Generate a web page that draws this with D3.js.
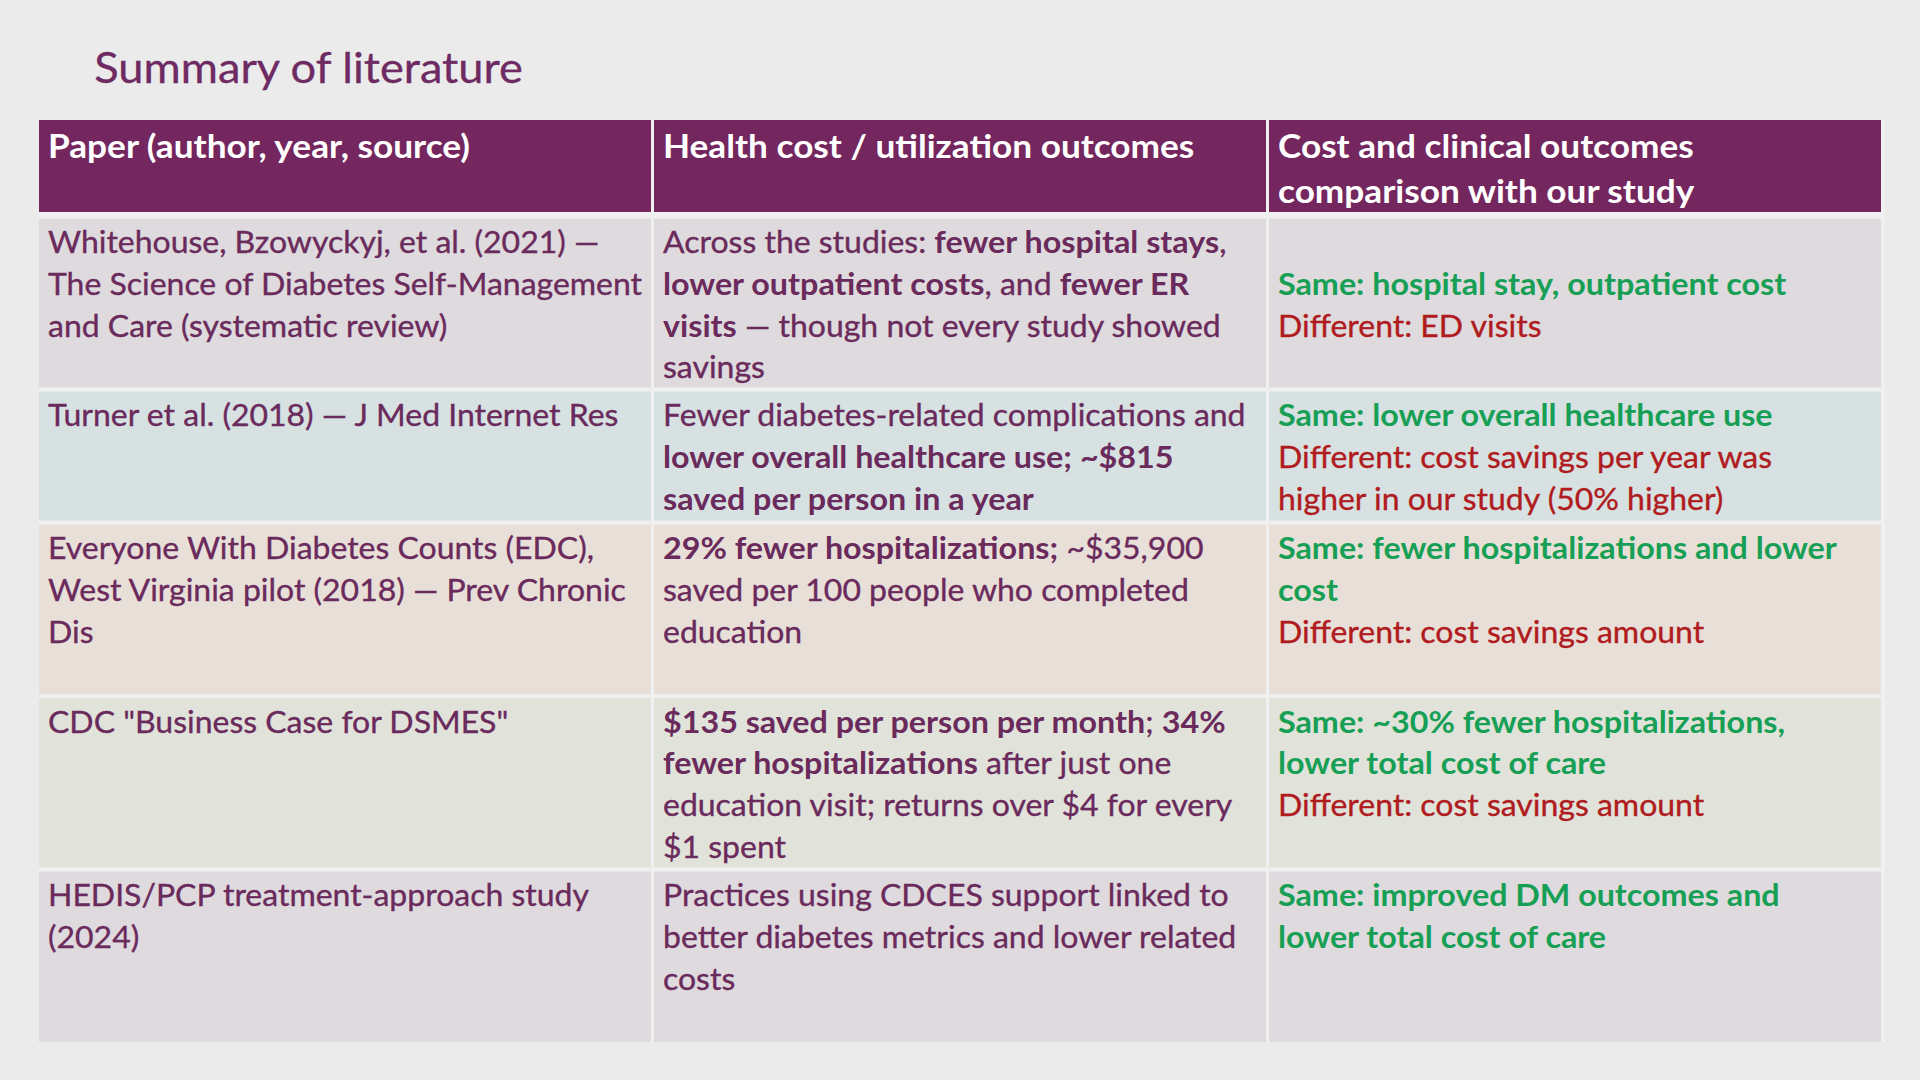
<!DOCTYPE html>
<html><head><meta charset="utf-8">
<script src="https://cdn.jsdelivr.net/npm/d3@7"></script>
<style>html,body{margin:0;padding:0;background:#ebebeb;overflow:hidden} svg{display:block}</style>
</head><body>
<svg id="c" width="1920" height="1080"></svg>
<script>
// ---------- DATA ----------
const titleText = "Summary of literature";
const headerLines = [
  ["Paper (author, year, source)"],
  ["Health cost / utilization outcomes"],
  ["Cost and clinical outcomes", "comparison with our study"]
];
// segment style codes: n = normal, b = bold, g = "same" (green bold), r = "different" (red)
const papers = [
  [[["n","Whitehouse, Bzowyckyj, et al. (2021) —"]],[["n","The Science of Diabetes Self-Management"]],[["n","and Care (systematic review)"]]],
  [[["n","Turner et al. (2018) — J Med Internet Res"]]],
  [[["n","Everyone With Diabetes Counts (EDC),"]],[["n","West Virginia pilot (2018) — Prev Chronic"]],[["n","Dis"]]],
  [[["n","CDC \"Business Case for DSMES\""]]],
  [[["n","HEDIS/PCP treatment-approach study"]],[["n","(2024)"]]]
];
const outcomes = [
  [[["n","Across the studies: "],["b","fewer hospital stays"],["n",","]],
   [["b","lower outpatient costs"],["n",", and "],["b","fewer ER"]],
   [["b","visits"],["n"," — though not every study showed"]],
   [["n","savings"]]],
  [[["n","Fewer diabetes-related complications and"]],
   [["b","lower overall healthcare use; ~$815"]],
   [["b","saved per person in a year"]]],
  [[["b","29% fewer hospitalizations;"],["n"," ~$35,900"]],
   [["n","saved per 100 people who completed"]],
   [["n","education"]]],
  [[["b","$135 saved per person per month"],["n","; "],["b","34%"]],
   [["b","fewer hospitalizations"],["n"," after just one"]],
   [["n","education visit; returns over $4 for every"]],
   [["n","$1 spent"]]],
  [[["n","Practices using CDCES support linked to"]],
   [["n","better diabetes metrics and lower related"]],
   [["n","costs"]]]
];
const comparison = [
  [[],
   [["g","Same: hospital stay, outpatient cost"]],
   [["r","Different: ED visits"]]],
  [[["g","Same: lower overall healthcare use"]],
   [["r","Different: cost savings per year was"]],
   [["r","higher in our study (50% higher)"]]],
  [[["g","Same: fewer hospitalizations and lower"]],
   [["g","cost"]],
   [["r","Different: cost savings amount"]]],
  [[["g","Same: ~30% fewer hospitalizations,"]],
   [["g","lower total cost of care"]],
   [["r","Different: cost savings amount"]]],
  [[["g","Same: improved DM outcomes and"]],
   [["g","lower total cost of care"]]]
];

// ---------- STYLE / LAYOUT ----------
const FONT = "Lato, 'Open Sans', sans-serif";
const C = {
  bg:"#ebebeb", grid:"#f1f0f1", header:"#74265e", headerText:"#ffffff",
  title:"#6e2a62", text:"#6a2a5c", same:"#17a055", diff:"#b01b20",
  rows:["#dedadd","#d7e1e2","#e8e0d8","#e1e3db","#dfdade"]
};
const L = {
  left:39, right:1881, colGapFrac:3/614,
  headerTop:120, headerBottom:212,
  rowTops:[218.5,391.5,524.5,698,871.5], rowBottoms:[387.5,520.5,694.5,867.5,1042],
  padX:9, headBase1:158, headPitch:45,
  bodyOffset:34.8, bodyPitch:41.6,
  titleX:94.3, titleBase:83
};

const svg = d3.select("#c");
svg.append("rect").attr("width",1920).attr("height",1080).attr("fill",C.bg);

function measure(str, size, weight){
  const t = svg.append("text").attr("font-family",FONT).attr("font-size",size)
    .attr("font-weight",weight).text(str);
  const w = t.node().getComputedTextLength(); t.remove(); return w;
}
// fit fonts: match cap height (Calibri-like), compress horizontally to match widths
const CAP = 0.7165;
const titleFs = 30/CAP;
const titleSx = 428.6/measure(titleText,titleFs,400);
const headFs = 23.6/CAP;
const headSx = 422/measure(headerLines[0][0],headFs,700);
const bodyFs = 22.2/CAP;
const bodySx = 594/measure("The Science of Diabetes Self-Management",bodyFs,400);
const bodyBoldFs = bodyFs * 510.6/(measure("lower overall healthcare use; ~$815",bodyFs,700)*bodySx);

const x = d3.scaleBand().domain(d3.range(3)).range([L.left,L.right]).paddingInner(L.colGapFrac);

// title
svg.append("text").attr("font-family",FONT).attr("font-size",titleFs).attr("fill",C.title)
  .attr("stroke",C.title).attr("stroke-width",0.3)
  .attr("transform",`translate(${L.titleX},${L.titleBase}) scale(${titleSx},1)`).text(titleText);

// table grid background
svg.append("rect").attr("x",L.left).attr("y",L.headerTop).attr("width",L.right-L.left+4)
  .attr("height",L.rowBottoms[4]-L.headerTop).attr("fill",C.grid);

// header cells
const hg = svg.append("g");
hg.selectAll("rect").data(headerLines).join("rect")
  .attr("x",(d,i)=>x(i)).attr("width",x.bandwidth())
  .attr("y",L.headerTop).attr("height",L.headerBottom-L.headerTop).attr("fill",C.header);
headerLines.forEach((lines,i)=>{
  lines.forEach((ln,k)=>{
    hg.append("text").attr("font-family",FONT).attr("font-size",headFs).attr("font-weight",700)
      .attr("fill",C.headerText)
      .attr("transform",`translate(${x(i)+L.padX},${L.headBase1+k*L.headPitch}) scale(${headSx},1)`)
      .text(ln);
  });
});

// body cells
const styleOf = {
  n:{w:400,fill:C.text,fs:bodyFs,sw:0.35},
  b:{w:700,fill:C.text,fs:bodyBoldFs,sw:0},
  g:{w:700,fill:C.same,fs:bodyBoldFs,sw:0},
  r:{w:400,fill:C.diff,fs:bodyFs,sw:0.35}
};
const cols = [papers,outcomes,comparison];
const bg = svg.append("g");
papers.forEach((_,r)=>{
  d3.range(3).forEach(ci=>{
    bg.append("rect").attr("x",x(ci)).attr("width",x.bandwidth())
      .attr("y",L.rowTops[r]).attr("height",L.rowBottoms[r]-L.rowTops[r]).attr("fill",C.rows[r]);
  });
});
cols.forEach((col,ci)=>{
  col.forEach((cell,r)=>{
    cell.forEach((line,k)=>{
      if(!line.length) return;
      const t = bg.append("text").attr("font-family",FONT)
        .attr("transform",`translate(${x(ci)+L.padX},${L.rowTops[r]+L.bodyOffset+k*L.bodyPitch}) scale(${bodySx},1)`);
      line.forEach(([s,str])=>{
        const st = styleOf[s];
        t.append("tspan").attr("font-weight",st.w).attr("fill",st.fill).attr("font-size",st.fs)
          .attr("stroke",st.sw?st.fill:"none").attr("stroke-width",st.sw)
          .attr("xml:space","preserve").style("white-space","pre").text(str);
      });
    });
  });
});
</script>
</body></html>
